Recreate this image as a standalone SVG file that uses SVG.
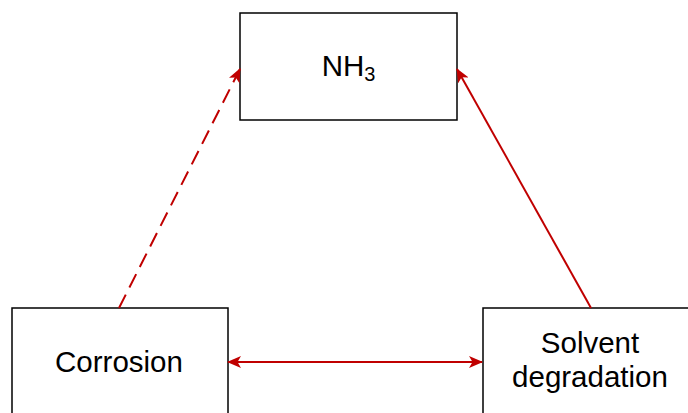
<svg xmlns="http://www.w3.org/2000/svg" width="688" height="413" viewBox="0 0 688 413">
<style>
.box{fill:#fff;stroke:#000;stroke-width:1.5}
.t{font-family:"Liberation Sans",Arial,sans-serif;font-size:29.5px;fill:#000;text-anchor:middle}
.c{stroke:#C00000;stroke-width:2;fill:none}
</style>
<defs>
<marker id="ah" viewBox="0 0 14 12" refX="13" refY="6" markerWidth="14" markerHeight="12" markerUnits="userSpaceOnUse" orient="auto-start-reverse">
<path d="M0,0 L14,6 L0,12 L3.5,6 Z" fill="#C00000"/>
</marker>
</defs>
<g id="nh3">
<rect class="box" x="240" y="13" width="217" height="107"/>
<text class="t" x="348.5" y="76" font-size="31">NH<tspan font-size="20" dy="5">3</tspan></text>
</g>
<g id="corrosion">
<rect class="box" x="12" y="308" width="216" height="110"/>
<text class="t" x="119" y="372">Corrosion</text>
</g>
<g id="solvent">
<rect class="box" x="483" y="308" width="210" height="110"/>
<text class="t" x="590" y="353">Solvent</text>
<text class="t" x="590" y="387">degradation</text>
</g>
<g id="connectors">
<line class="c" x1="119" y1="308" x2="240" y2="69" stroke-dasharray="15,8" marker-end="url(#ah)"/>
<line class="c" x1="591" y1="308" x2="457" y2="69" marker-end="url(#ah)"/>
<line class="c" x1="228" y1="362" x2="482" y2="362" marker-start="url(#ah)" marker-end="url(#ah)"/>
</g>
</svg>
